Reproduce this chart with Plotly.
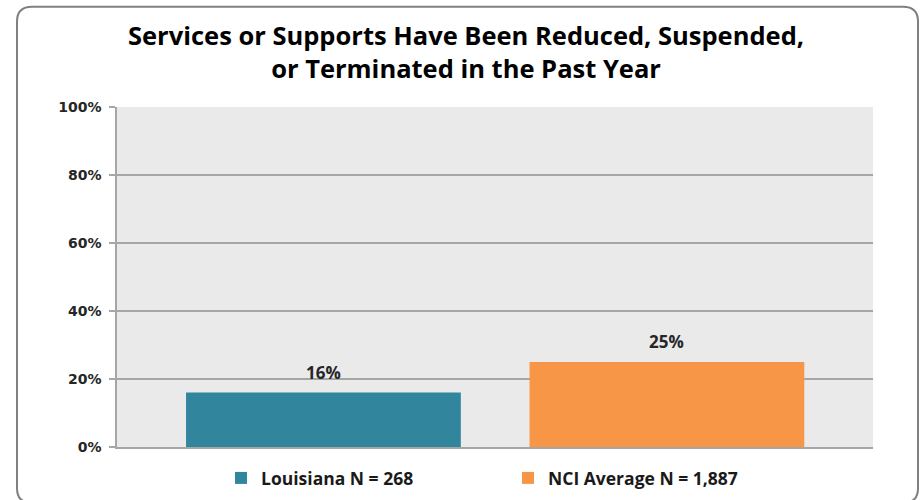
import plotly.graph_objects as go

series_names = ["Louisiana N = 268", "NCI Average N = 1,887"]
categories = ["Louisiana", "NCI Average"]
series_values = [0.16, 0.25]
series_colors = ["#31859C", "#F79646"]
y_ticks = [0, 0.2, 0.4, 0.6, 0.8, 1.0]
y_tick_labels = ["0%", "20%", "40%", "60%", "80%", "100%"]

LABEL_FONT = dict(family="Open Sans", size=17, color="#262626", weight="bold")

fig = go.Figure()
for name, cat, val, col in zip(series_names, categories, series_values, series_colors):
    fig.add_trace(go.Bar(
        x=[cat], y=[val], name=name, width=0.8,
        marker=dict(color=col, line=dict(width=0)),
        hoverinfo="skip",
    ))
    fig.add_annotation(
        x=cat, y=val, text=f"{val:.0%}", showarrow=False,
        xref="x", yref="y", yanchor="bottom", yshift=7,
        font=LABEL_FONT,
    )

W, H = 921, 508
l, r, t, b = 117, 48, 107, 55

fig.update_layout(
    width=W, height=H,
    margin=dict(l=l, r=r, t=t, b=b),
    paper_bgcolor="white",
    plot_bgcolor="#EAEAEA",
    barmode="overlay",
    title=dict(
        text="Services or Supports Have Been Reduced, Suspended,<br>or Terminated in the Past Year",
        x=0.506, xanchor="center", y=0.911, yanchor="middle",
        font=dict(family="Open Sans", size=25.5, color="#000000", weight="bold"),
    ),
    showlegend=True,
    legend=dict(
        orientation="h", x=0.1376, xanchor="left", y=-0.0913, yanchor="middle",
        font=dict(family="Open Sans", size=17.5, color="#1a1a1a", weight="bold"),
        traceorder="normal", itemwidth=30, entrywidth=242,
    ),
    xaxis=dict(
        type="category", range=[-0.601, 1.6],
        showticklabels=False, showgrid=False, zeroline=False,
        showline=True, linecolor="#A6A6A6", linewidth=1.5, ticks="",
    ),
    yaxis=dict(
        range=[0, 1], tickvals=y_ticks, ticktext=y_tick_labels,
        showgrid=True, gridcolor="#A6A6A6", gridwidth=1.5,
        zeroline=False, showline=True, linecolor="#A6A6A6", linewidth=1.5,
        ticks="outside", ticklen=6, tickcolor="#A6A6A6", tickwidth=1.5,
        tickfont=dict(family="DejaVu Sans", size=14, color="#262626", weight="bold"),
        ticklabelstandoff=5,
    ),
)

# rounded border around whole chart (paper coords extend beyond plot area)
pw, ph = W - l - r, H - t - b
def px(x): return (x - l) / pw
def py(y): return (H - b - y) / ph
x0, x1, y0, y1, rad = 17, 918, 5, 510, 15
path = (
    f"M {px(x0+rad)} {py(y0)} L {px(x1-rad)} {py(y0)} "
    f"Q {px(x1)} {py(y0)} {px(x1)} {py(y0+rad)} "
    f"L {px(x1)} {py(y1-rad)} Q {px(x1)} {py(y1)} {px(x1-rad)} {py(y1)} "
    f"L {px(x0+rad)} {py(y1)} Q {px(x0)} {py(y1)} {px(x0)} {py(y1-rad)} "
    f"L {px(x0)} {py(y0+rad)} Q {px(x0)} {py(y0)} {px(x0+rad)} {py(y0)} Z"
)
fig.add_shape(type="path", path=path, xref="paper", yref="paper",
              line=dict(color="#808080", width=2), layer="below")

fig.write_html(
    "out.html",
    config={"displayModeBar": False},
    post_script=(
        "var s=document.createElement('style');"
        "s.textContent='html,body{margin:0;padding:0;overflow:hidden;}';"
        "document.head.appendChild(s);"
    ),
)
